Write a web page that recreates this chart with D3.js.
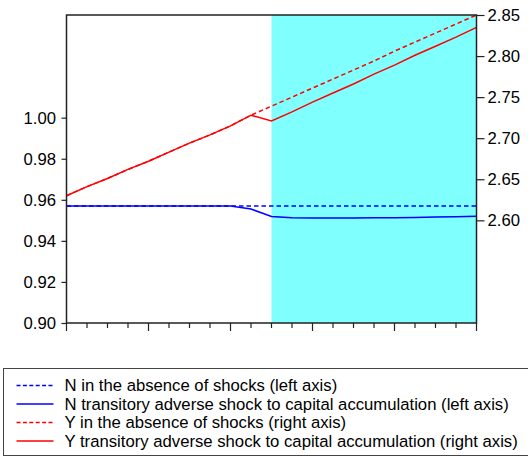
<!DOCTYPE html>
<html>
<head>
<meta charset="utf-8">
<script src="https://cdn.jsdelivr.net/npm/d3@7/dist/d3.min.js"></script>
<style>
  html, body { margin: 0; padding: 0; background: #fff; }
  svg { display: block; font-family: "Liberation Sans", Arial, sans-serif; }
</style>
</head>
<body>
<svg id="chart" width="528" height="457"></svg>
<script>
// Periods along the horizontal axis (unlabelled)
const periods = d3.range(0, 21);
// Shock window (shaded)
const shockStart = 10, shockEnd = 20;

// Employment N (left axis)
const nBaseline = [0.957, 0.957, 0.957, 0.957, 0.957, 0.957, 0.957, 0.957, 0.957, 0.957,
                   0.957, 0.957, 0.957, 0.957, 0.957, 0.957, 0.957, 0.957, 0.957, 0.957, 0.957];
const nShock    = [0.957, 0.957, 0.957, 0.957, 0.957, 0.957, 0.957, 0.957, 0.957, 0.9555,
                   0.9519, 0.9513, 0.9511, 0.9511, 0.9511, 0.9512, 0.9513, 0.9514, 0.9516, 0.9517, 0.9520];

// Output Y (right axis)
const yBaseline = [2.630, 2.641, 2.651, 2.662, 2.672, 2.683, 2.694, 2.704, 2.715, 2.728,
                   2.739, 2.750, 2.761, 2.772, 2.783, 2.794, 2.806, 2.817, 2.828, 2.839, 2.850];
const yShock    = [2.630, 2.641, 2.651, 2.662, 2.672, 2.683, 2.694, 2.704, 2.715, 2.728,
                   2.721, 2.732, 2.744, 2.755, 2.766, 2.778, 2.789, 2.801, 2.812, 2.823, 2.835];

const leftTicks = [0.90, 0.92, 0.94, 0.96, 0.98, 1.00];
const rightTicks = [2.60, 2.65, 2.70, 2.75, 2.80, 2.85];

const legendItems = [
  { label: "N in the absence of shocks (left axis)", color: "#0000ff", dash: true },
  { label: "N transitory adverse shock to capital accumulation (left axis)", color: "#0000ff", dash: false },
  { label: "Y in the absence of shocks (right axis)", color: "#ff0000", dash: true },
  { label: "Y transitory adverse shock to capital accumulation (right axis)", color: "#ff0000", dash: false }
];

const fontSize = "16.7px";
const svg = d3.select("#chart");
const plot = { left: 66.5, right: 476.5, top: 15, bottom: 323 };

const x = d3.scaleLinear().domain([0, 20]).range([plot.left, plot.right]);
const yL = d3.scaleLinear().domain([0.90, 1.05]).range([plot.bottom, plot.top]);
const yR = d3.scaleLinear().domain([2.475, 2.85]).range([plot.bottom, plot.top]);

// Shaded shock period
svg.append("rect")
  .attr("x", x(shockStart)).attr("y", plot.top)
  .attr("width", x(shockEnd) - x(shockStart))
  .attr("height", plot.bottom - plot.top)
  .attr("fill", "#80ffff");

const dashPattern = "4.5,3";

function drawLine(values, scale, color, dashed) {
  const line = d3.line().x((d, i) => x(periods[i])).y(d => scale(d));
  svg.append("path")
    .datum(values)
    .attr("d", line)
    .attr("fill", "none")
    .attr("stroke", color)
    .attr("stroke-width", 1.5)
    .attr("stroke-dasharray", dashed ? dashPattern : null);
}

drawLine(nBaseline, yL, "#0000ff", true);
drawLine(yBaseline, yR, "#ff0000", true);
drawLine(nShock, yL, "#0000ff", false);
drawLine(yShock, yR, "#ff0000", false);

// Plot frame
svg.append("rect")
  .attr("x", plot.left).attr("y", plot.top)
  .attr("width", plot.right - plot.left)
  .attr("height", plot.bottom - plot.top)
  .attr("fill", "none")
  .attr("stroke", "#222")
  .attr("stroke-width", 1.5);

// Left axis
const leftAxis = d3.axisLeft(yL).tickValues(leftTicks).tickFormat(d3.format(".2f"))
  .tickSize(5).tickPadding(5.5);
const gL = svg.append("g").attr("transform", `translate(${plot.left},0)`).call(leftAxis);

// Right axis
const rightAxis = d3.axisRight(yR).tickValues(rightTicks).tickFormat(d3.format(".2f"))
  .tickSize(8).tickPadding(3);
const gR = svg.append("g").attr("transform", `translate(${plot.right},0)`).call(rightAxis);

// Bottom axis: unlabelled ticks, longer every fourth period
const gB = svg.append("g").attr("transform", `translate(0,${plot.bottom})`);
gB.selectAll("line.tick")
  .data(periods)
  .join("line")
  .attr("class", "tick")
  .attr("x1", d => x(d)).attr("x2", d => x(d))
  .attr("y1", 0).attr("y2", d => d % 4 === 0 ? 8 : 5)
  .attr("stroke", "#222").attr("stroke-width", 1.2);

[gL, gR].forEach(g => {
  g.select(".domain").remove();
  g.selectAll(".tick line").attr("stroke", "#222").attr("stroke-width", 1.2);
  g.selectAll(".tick text").attr("fill", "#000").style("font-size", fontSize)
    .style("font-family", "'Liberation Sans', Arial, sans-serif");
});

// Legend
const legend = svg.append("g");
legend.append("rect")
  .attr("x", 3.5).attr("y", 368.5)
  .attr("width", 540).attr("height", 87)
  .attr("fill", "#fff")
  .attr("stroke", "#444").attr("stroke-width", 1);

const rowY = d3.scaleLinear().domain([0, 1]).range([385.5, 404]);
legendItems.forEach((item, i) => {
  const cy = rowY(i);
  legend.append("line")
    .attr("x1", 16.5).attr("x2", 53.5)
    .attr("y1", cy).attr("y2", cy)
    .attr("stroke", item.color).attr("stroke-width", 1.5)
    .attr("stroke-dasharray", item.dash ? "4,2.4" : null);
  legend.append("text")
    .attr("x", 64.5).attr("y", cy + 5.8)
    .attr("fill", "#000")
    .style("font-size", fontSize)
    .text(item.label);
});
</script>
</body>
</html>
